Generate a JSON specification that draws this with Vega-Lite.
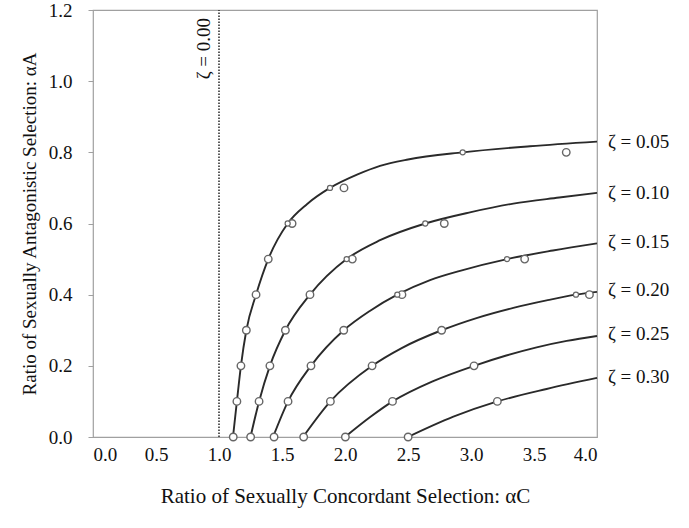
{
  "$schema": "https://vega.github.io/schema/vega-lite/v6.json",
  "width": 504,
  "height": 427,
  "autosize": {"type": "none"},
  "padding": {"left": 93, "top": 10, "right": 92, "bottom": 91},
  "background": "white",
  "config": {
    "view": {"stroke": "#a0a0a0", "strokeWidth": 1.2},
    "font": "Liberation Serif",
    "axis": {
      "grid": false,
      "domain": false,
      "labelFont": "Liberation Serif",
      "titleFont": "Liberation Serif",
      "labelColor": "#111",
      "titleColor": "#111",
      "titleFontWeight": "normal",
      "labelFontSize": 19,
      "tickColor": "#a0a0a0"
    }
  },
  "datasets": {
    "curves": [
      {"zeta": "0.05", "ac": 1.111, "aa": 0},
      {"zeta": "0.05", "ac": 1.142, "aa": 0.1},
      {"zeta": "0.05", "ac": 1.174, "aa": 0.2},
      {"zeta": "0.05", "ac": 1.217, "aa": 0.3},
      {"zeta": "0.05", "ac": 1.294, "aa": 0.4},
      {"zeta": "0.05", "ac": 1.391, "aa": 0.5},
      {"zeta": "0.05", "ac": 1.545, "aa": 0.6},
      {"zeta": "0.05", "ac": 1.7, "aa": 0.655},
      {"zeta": "0.05", "ac": 1.881, "aa": 0.7},
      {"zeta": "0.05", "ac": 2.1, "aa": 0.738},
      {"zeta": "0.05", "ac": 2.278, "aa": 0.762},
      {"zeta": "0.05", "ac": 2.5, "aa": 0.78},
      {"zeta": "0.05", "ac": 2.934, "aa": 0.8},
      {"zeta": "0.05", "ac": 3.468, "aa": 0.817},
      {"zeta": "0.05", "ac": 4.0, "aa": 0.83},
      {"zeta": "0.10", "ac": 1.25, "aa": 0},
      {"zeta": "0.10", "ac": 1.318, "aa": 0.1},
      {"zeta": "0.10", "ac": 1.404, "aa": 0.2},
      {"zeta": "0.10", "ac": 1.527, "aa": 0.3},
      {"zeta": "0.10", "ac": 1.722, "aa": 0.4},
      {"zeta": "0.10", "ac": 2.013, "aa": 0.5},
      {"zeta": "0.10", "ac": 2.278, "aa": 0.553},
      {"zeta": "0.10", "ac": 2.637, "aa": 0.6},
      {"zeta": "0.10", "ac": 3.0, "aa": 0.632},
      {"zeta": "0.10", "ac": 3.336, "aa": 0.656},
      {"zeta": "0.10", "ac": 3.7, "aa": 0.673},
      {"zeta": "0.10", "ac": 4.0, "aa": 0.686},
      {"zeta": "0.15", "ac": 1.429, "aa": 0},
      {"zeta": "0.15", "ac": 1.548, "aa": 0.1},
      {"zeta": "0.15", "ac": 1.73, "aa": 0.2},
      {"zeta": "0.15", "ac": 1.99, "aa": 0.3},
      {"zeta": "0.15", "ac": 2.2, "aa": 0.355},
      {"zeta": "0.15", "ac": 2.415, "aa": 0.4},
      {"zeta": "0.15", "ac": 2.675, "aa": 0.441},
      {"zeta": "0.15", "ac": 2.913, "aa": 0.467},
      {"zeta": "0.15", "ac": 3.286, "aa": 0.5},
      {"zeta": "0.15", "ac": 3.65, "aa": 0.524},
      {"zeta": "0.15", "ac": 4.0, "aa": 0.544},
      {"zeta": "0.20", "ac": 1.667, "aa": 0},
      {"zeta": "0.20", "ac": 1.884, "aa": 0.1},
      {"zeta": "0.20", "ac": 2.215, "aa": 0.2},
      {"zeta": "0.20", "ac": 2.45, "aa": 0.25},
      {"zeta": "0.20", "ac": 2.767, "aa": 0.3},
      {"zeta": "0.20", "ac": 3.05, "aa": 0.335},
      {"zeta": "0.20", "ac": 3.336, "aa": 0.363},
      {"zeta": "0.20", "ac": 3.6, "aa": 0.384},
      {"zeta": "0.20", "ac": 3.833, "aa": 0.4},
      {"zeta": "0.20", "ac": 4.0, "aa": 0.408},
      {"zeta": "0.25", "ac": 2.0, "aa": 0},
      {"zeta": "0.25", "ac": 2.2, "aa": 0.056},
      {"zeta": "0.25", "ac": 2.378, "aa": 0.1},
      {"zeta": "0.25", "ac": 2.7, "aa": 0.157},
      {"zeta": "0.25", "ac": 3.024, "aa": 0.2},
      {"zeta": "0.25", "ac": 3.28, "aa": 0.229},
      {"zeta": "0.25", "ac": 3.521, "aa": 0.252},
      {"zeta": "0.25", "ac": 3.76, "aa": 0.27},
      {"zeta": "0.25", "ac": 4.0, "aa": 0.284},
      {"zeta": "0.30", "ac": 2.5, "aa": 0},
      {"zeta": "0.30", "ac": 2.86, "aa": 0.057},
      {"zeta": "0.30", "ac": 3.209, "aa": 0.1},
      {"zeta": "0.30", "ac": 3.6, "aa": 0.135},
      {"zeta": "0.30", "ac": 4.0, "aa": 0.166}
    ],
    "large": [
      {"zeta": "0.05", "ac": 1.113, "aa": 0},
      {"zeta": "0.05", "ac": 1.142, "aa": 0.1},
      {"zeta": "0.05", "ac": 1.174, "aa": 0.2},
      {"zeta": "0.05", "ac": 1.217, "aa": 0.3},
      {"zeta": "0.05", "ac": 1.294, "aa": 0.4},
      {"zeta": "0.05", "ac": 1.391, "aa": 0.5},
      {"zeta": "0.05", "ac": 1.58, "aa": 0.6},
      {"zeta": "0.05", "ac": 1.992, "aa": 0.7},
      {"zeta": "0.05", "ac": 3.756, "aa": 0.8},
      {"zeta": "0.10", "ac": 1.251, "aa": 0},
      {"zeta": "0.10", "ac": 1.318, "aa": 0.1},
      {"zeta": "0.10", "ac": 1.404, "aa": 0.2},
      {"zeta": "0.10", "ac": 1.527, "aa": 0.3},
      {"zeta": "0.10", "ac": 1.722, "aa": 0.4},
      {"zeta": "0.10", "ac": 2.058, "aa": 0.5},
      {"zeta": "0.10", "ac": 2.788, "aa": 0.6},
      {"zeta": "0.15", "ac": 1.437, "aa": 0},
      {"zeta": "0.15", "ac": 1.548, "aa": 0.1},
      {"zeta": "0.15", "ac": 1.73, "aa": 0.2},
      {"zeta": "0.15", "ac": 1.99, "aa": 0.3},
      {"zeta": "0.15", "ac": 2.452, "aa": 0.4},
      {"zeta": "0.15", "ac": 3.426, "aa": 0.5},
      {"zeta": "0.20", "ac": 1.672, "aa": 0},
      {"zeta": "0.20", "ac": 1.884, "aa": 0.1},
      {"zeta": "0.20", "ac": 2.215, "aa": 0.2},
      {"zeta": "0.20", "ac": 2.767, "aa": 0.3},
      {"zeta": "0.20", "ac": 3.94, "aa": 0.4},
      {"zeta": "0.25", "ac": 2.003, "aa": 0},
      {"zeta": "0.25", "ac": 2.377, "aa": 0.1},
      {"zeta": "0.25", "ac": 3.024, "aa": 0.2},
      {"zeta": "0.30", "ac": 2.501, "aa": 0},
      {"zeta": "0.30", "ac": 3.209, "aa": 0.1}
    ],
    "small": [
      {"zeta": "0.05", "ac": 1.545, "aa": 0.6},
      {"zeta": "0.05", "ac": 1.881, "aa": 0.7},
      {"zeta": "0.05", "ac": 2.934, "aa": 0.8},
      {"zeta": "0.10", "ac": 2.013, "aa": 0.5},
      {"zeta": "0.10", "ac": 2.637, "aa": 0.6},
      {"zeta": "0.15", "ac": 2.415, "aa": 0.4},
      {"zeta": "0.15", "ac": 3.286, "aa": 0.5},
      {"zeta": "0.20", "ac": 3.833, "aa": 0.4}
    ],
    "labels": [
      {"ac": 4.0, "aa": 0.829, "text": "ζ = 0.05"},
      {"ac": 4.0, "aa": 0.686, "text": "ζ = 0.10"},
      {"ac": 4.0, "aa": 0.549, "text": "ζ = 0.15"},
      {"ac": 4.0, "aa": 0.413, "text": "ζ = 0.20"},
      {"ac": 4.0, "aa": 0.29, "text": "ζ = 0.25"},
      {"ac": 4.0, "aa": 0.168, "text": "ζ = 0.30"}
    ],
    "zero": [
      {"ac": 1.0, "aa": 0, "aa2": 1.2, "text": "ζ = 0.00"}
    ]
  },
  "layer": [
    {
      "data": {"name": "zero"},
      "mark": {"type": "rule", "strokeDash": [1.5, 1.5], "color": "#333", "strokeWidth": 1.6},
      "encoding": {
        "x": {
          "field": "ac", "type": "quantitative",
          "scale": {"domain": [0, 4], "nice": false},
          "axis": {
            "values": [0, 0.5, 1, 1.5, 2, 2.5, 3, 3.5, 4],
            "format": ".1f",
            "ticks": false,
            "labelPadding": 8,
            "title": "Ratio of Sexually Concordant Selection: αC",
            "titleFontSize": 21,
            "titlePadding": 21
          }
        },
        "y": {
          "field": "aa", "type": "quantitative",
          "scale": {"domain": [0, 1.2], "nice": false},
          "axis": {
            "values": [0, 0.2, 0.4, 0.6, 0.8, 1.0, 1.2],
            "format": ".1f",
            "tickSize": 5,
            "labelPadding": 16,
            "title": "Ratio of Sexually Antagonistic Selection: αA",
            "titleFontSize": 19,
            "titlePadding": 9
          }
        },
        "y2": {"field": "aa2"}
      }
    },
    {
      "data": {"name": "zero"},
      "mark": {"type": "text", "angle": 270, "align": "right", "baseline": "bottom", "dx": -8, "dy": -5, "fontSize": 19, "color": "#111"},
      "encoding": {
        "x": {"field": "ac", "type": "quantitative"},
        "y": {"field": "aa2", "type": "quantitative"},
        "text": {"field": "text"}
      }
    },
    {
      "data": {"name": "curves"},
      "mark": {"type": "line", "interpolate": "monotone", "color": "#2a2a2a", "strokeWidth": 1.9},
      "encoding": {
        "x": {"field": "ac", "type": "quantitative"},
        "y": {"field": "aa", "type": "quantitative"},
        "detail": {"field": "zeta"},
        "order": {"field": "ac"}
      }
    },
    {
      "data": {"name": "large"},
      "mark": {"type": "point", "shape": "circle", "filled": false, "fill": "white", "fillOpacity": 1, "stroke": "#666", "strokeWidth": 1.4, "size": 56, "opacity": 1},
      "encoding": {
        "x": {"field": "ac", "type": "quantitative"},
        "y": {"field": "aa", "type": "quantitative"}
      }
    },
    {
      "data": {"name": "small"},
      "mark": {"type": "point", "shape": "circle", "filled": false, "fill": "white", "fillOpacity": 1, "stroke": "#666", "strokeWidth": 1.2, "size": 26, "opacity": 1},
      "encoding": {
        "x": {"field": "ac", "type": "quantitative"},
        "y": {"field": "aa", "type": "quantitative"}
      }
    },
    {
      "data": {"name": "labels"},
      "mark": {"type": "text", "align": "left", "baseline": "middle", "dx": 11, "fontSize": 19, "color": "#111"},
      "encoding": {
        "x": {"field": "ac", "type": "quantitative"},
        "y": {"field": "aa", "type": "quantitative"},
        "text": {"field": "text"}
      }
    }
  ]
}
